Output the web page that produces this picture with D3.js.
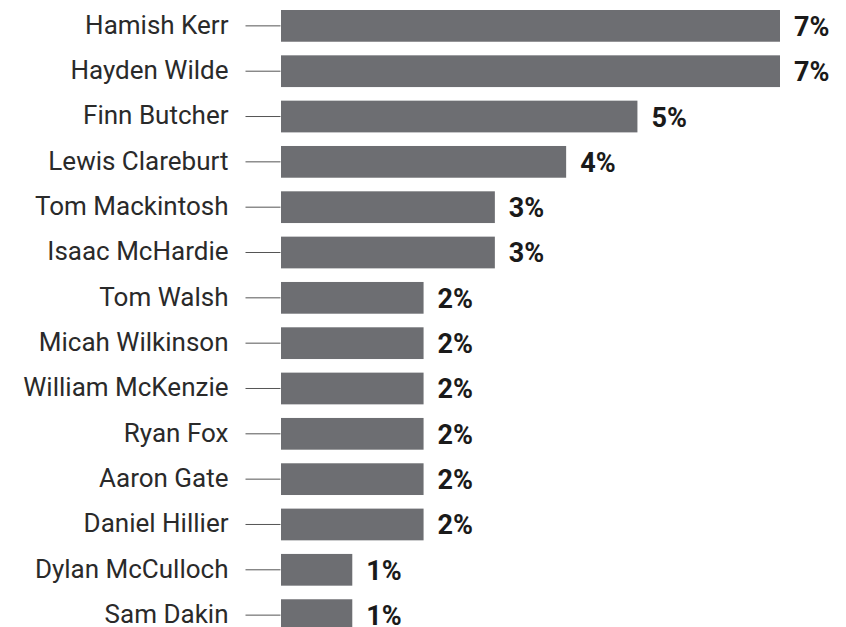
<!DOCTYPE html>
<html>
<head>
<meta charset="utf-8">
<script src="https://cdn.jsdelivr.net/npm/d3@7"></script>
<style>
  body { margin: 0; background: #fff; }
  .y-axis text { font-family: Roboto, sans-serif; font-size: 26px; fill: #2a2a2a; }
  .y-axis line { stroke: #555; }
  .value { font-family: Roboto, sans-serif; font-size: 27px; font-weight: 700; fill: #1a1a1a; }
</style>
</head>
<body>
<script>
const w = 846;
const h = 627;

const names = ["Hamish Kerr", "Hayden Wilde", "Finn Butcher", "Lewis Clareburt",
  "Tom Mackintosh", "Isaac McHardie", "Tom Walsh", "Micah Wilkinson",
  "William McKenzie", "Ryan Fox", "Aaron Gate", "Daniel Hillier",
  "Dylan McCulloch", "Sam Dakin"];
const values = [7, 7, 5, 4, 3, 3, 2, 2, 2, 2, 2, 2, 1, 1];

const rows = names.map((n, i) => ({ name: n, value: values[i] }));

const xScale = d3.scaleLinear()
  .domain([0, 7])
  .range([281, 780]);

const yScale = d3.scaleBand()
  .domain(names)
  .range([3.2, 637.8])
  .paddingInner(0.3)
  .paddingOuter(0.15);

const svg = d3.select("body")
  .append("svg")
  .attr("width", w)
  .attr("height", h);

// bars
svg.selectAll("rect.bar")
  .data(rows)
  .enter()
  .append("rect")
  .attr("class", "bar")
  .attr("x", xScale(0))
  .attr("y", d => yScale(d.name))
  .attr("width", d => xScale(d.value) - xScale(0))
  .attr("height", yScale.bandwidth())
  .attr("fill", "#6d6e72");

// names + little tick lines
const yAxis = d3.axisLeft(yScale)
  .tickSize(35)
  .tickPadding(17);

svg.append("g")
  .attr("class", "y-axis")
  .attr("transform", "translate(" + (xScale(0) - 0.5) + ",0)")
  .call(yAxis)
  .call(g => g.select(".domain").remove())
  .call(g => g.selectAll("text").attr("dy", "0.3em"));

// value labels
svg.selectAll("text.value")
  .data(rows)
  .enter()
  .append("text")
  .attr("class", "value")
  .attr("x", d => xScale(d.value) + 14)
  .attr("y", d => yScale(d.name) + yScale.bandwidth() / 2)
  .attr("dy", "0.37em")
  .text(d => d.value + "%");
</script>
</body>
</html>
